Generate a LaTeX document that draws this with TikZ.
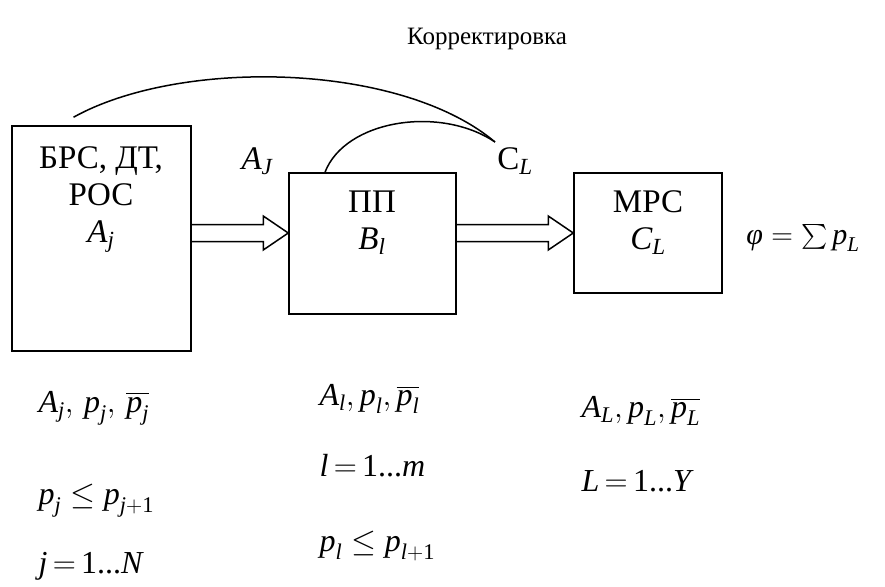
\RequirePackage{fix-cm}
\documentclass[tikz,border=0pt]{standalone}
\usepackage{amsmath}
\usepackage{fontspec}
\setmainfont{Liberation Serif}
\newfontfamily\timesfont{Liberation Serif}
\usepackage{tikz}
\usetikzlibrary{calc,positioning}
\newcommand{\iv}[1]{\textit{#1}}
\tikzset{
  block/.style={rectangle, draw, line width=1.5pt, inner sep=0pt},
  lbl/.style={align=center, font=\timesfont\fontsize{33}{37}\selectfont},
  title/.style={font=\timesfont\fontsize{25}{28}\selectfont},
  formula/.style={anchor=west, font=\timesfont\fontsize{32}{36}\selectfont},
  fatarrow/.style={line width=1.5pt, line join=miter},
  link/.style={line width=1.5pt},
}

\begin{document}
\begin{tikzpicture}[x=1pt, y=-1pt]
  \useasboundingbox (0,0) rectangle (885,586);
  % Blocks
  \node[block, minimum width=179pt, minimum height=225pt] (brs) at (101.5,238.5) {};
  \node[block, minimum width=167pt, minimum height=141pt] (pp) at (372.5,243.5) {};
  \node[block, minimum width=148pt, minimum height=120pt] (mrs) at (648,233) {};

  % Block texts
  \node[lbl] (brstxt) at (101,200) {БРС, ДТ,\\РОС\\$\iv{A}_{\iv{j}}$};
  \node[lbl] (pptxt) at (372,223) {ПП\\$\iv{B}_{\iv{l}}$};
  \node[lbl] (mrstxt) at (648,223) {МРС\\$\iv{C}_{\iv{L}}$};
  \node[lbl, font=\timesfont\fontsize{30}{34}\selectfont] (phi) at (803,238) {$\iv{φ} = \sum \iv{p}_{\iv{L}}$};

  % Title and flow labels
  \node[title] (corr) at (487,39) {Корректировка};
  \node[lbl] (aj) at (257,161) {$\iv{A}_{\iv{J}}$};
  \node[lbl] (cl) at (515,161) {$\text{C}_{\iv{L}}$};

  % Wide arrows
  \coordinate (t1) at (brs.east |- 0,233);
  \coordinate (h1) at (pp.west |- 0,233);
  \coordinate (t2) at (pp.east |- 0,233);
  \coordinate (h2) at (mrs.west |- 0,233);
  \foreach \a/\b in {t1/h1, t2/h2}
    \draw[fatarrow] ($(\a)+(0,-8.5)$) -- ($(\b)+(-25,-8.5)$) -- ($(\b)+(-25,-17)$) -- (\b)
      -- ($(\b)+(-25,17)$) -- ($(\b)+(-25,8.5)$) -- ($(\a)+(0,8.5)$);

  % Correction curves
  \coordinate (corrend) at (495,142);
  \draw[link] ($(brs.north)+(-28,-8)$) .. controls (180,58) and (400,62) .. (corrend);
  \draw[link] (pp.north -| 325,0) .. controls (345,120) and (440,105) .. (corrend);

  % Formulas below the blocks
  \node[formula] (fa1) at (35,408) {$\iv{A}_{\iv{j}},\, \iv{p}_{\iv{j}},\, \overline{\iv{p}_{\iv{j}}}$};
  \node[formula] (fa2) at (35,501) {$\iv{p}_{\iv{j}} \le \iv{p}_{\iv{j}+\text{1}}$};
  \node[formula] (fa3) at (35,566) {$\iv{j}\,{=}\,\text{1...}\iv{N}$};
  \node[formula] (fb1) at (316,399) {$\iv{A}_{\iv{l}}, \iv{p}_{\iv{l}}, \overline{\iv{p}_{\iv{l}}}$};
  \node[formula] (fb2) at (316,466) {$\iv{l}\,{=}\,\text{1...}\iv{m}$};
  \node[formula] (fb3) at (316,546) {$\iv{p}_{\iv{l}} \le \iv{p}_{\iv{l}+\text{1}}$};
  \node[formula] (fc1) at (578,411) {$\iv{A}_{\iv{L}}, \iv{p}_{\iv{L}}, \overline{\iv{p}_{\iv{L}}}$};
  \node[formula] (fc2) at (578,481) {$\iv{L}\,{=}\,\text{1...}\iv{Y}$};
\end{tikzpicture}
\end{document}
